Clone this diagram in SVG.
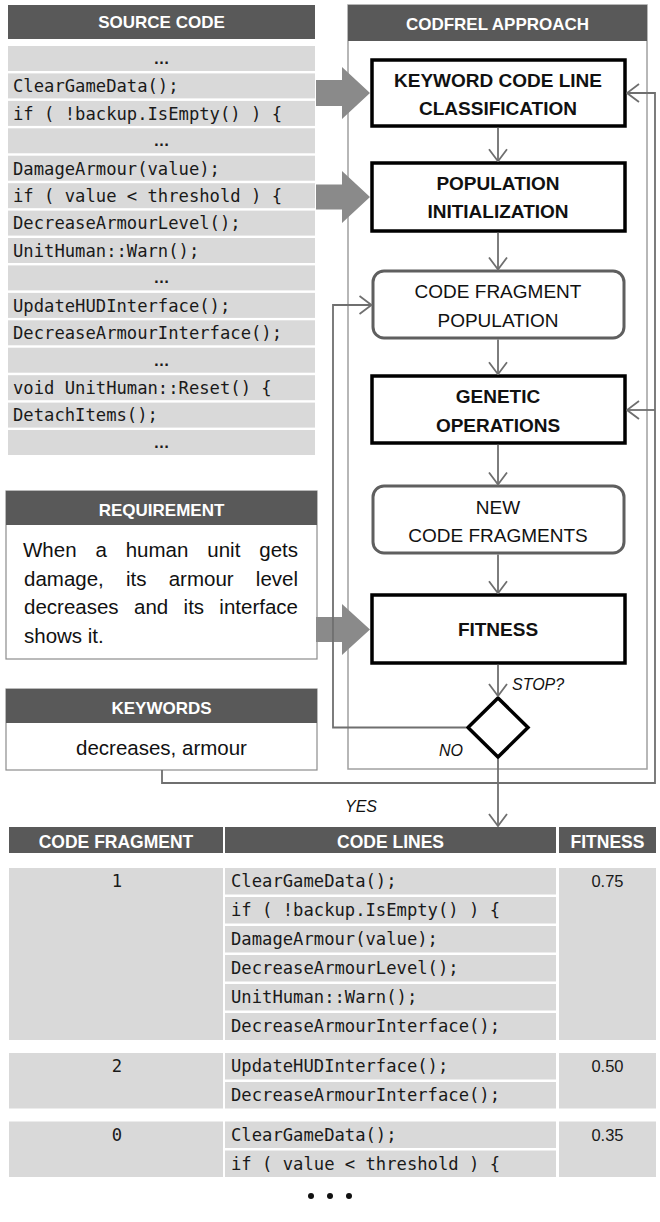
<svg xmlns="http://www.w3.org/2000/svg" width="660" height="1222" viewBox="0 0 660 1222">
  <defs>
    <style>
      .hdr { fill: #595959; }
      .hdrtxt { font-family: "Liberation Sans", Arial, sans-serif; font-weight: bold; font-size: 17px; fill: #ffffff; text-anchor: middle; }
      .row { fill: #d9d9d9; }
      .code { font-family: "DejaVu Sans Mono", "Liberation Mono", monospace; font-size: 17.2px; fill: #1a1a1a; }
      .ell { font-family: "Liberation Sans", Arial, sans-serif; font-weight: bold; font-size: 16px; fill: #1a1a1a; text-anchor: middle; }
      .body { font-family: "Liberation Sans", Arial, sans-serif; font-size: 20.5px; fill: #111111; }
      .frame { fill: #ffffff; stroke: #8c8c8c; stroke-width: 1.2; }
      .panel { fill: none; stroke: #a0a0a0; stroke-width: 1.5; }
      .step { fill: #ffffff; stroke: #000000; stroke-width: 3.5; }
      .data { fill: #ffffff; stroke: #5f5f5f; stroke-width: 3; }
      .steptxt { font-family: "Liberation Sans", Arial, sans-serif; font-weight: bold; font-size: 19px; fill: #111111; text-anchor: middle; }
      .datatxt { font-family: "Liberation Sans", Arial, sans-serif; font-size: 19px; fill: #111111; text-anchor: middle; }
      .block { fill: #8a8a8a; }
      .flow { fill: none; stroke: #6f6f6f; stroke-width: 1.8; }
      .lbl { font-family: "Liberation Sans", Arial, sans-serif; font-style: italic; font-size: 16px; fill: #111111; }
      .num { font-family: "DejaVu Sans Mono", "Liberation Mono", monospace; font-size: 17.2px; fill: #1a1a1a; text-anchor: middle; }
      .fit { font-family: "Liberation Sans", Arial, sans-serif; font-size: 16.5px; fill: #1a1a1a; text-anchor: middle; }
      .thtxt { font-family: "Liberation Sans", Arial, sans-serif; font-weight: bold; font-size: 17.5px; fill: #ffffff; text-anchor: middle; }
    </style>
    <marker id="vhead" viewBox="0 0 14 20" refX="13" refY="10" markerWidth="14" markerHeight="20" markerUnits="userSpaceOnUse" orient="auto">
      <path d="M1,1 L13,10 L1,19" fill="none" stroke="#6f6f6f" stroke-width="1.8"/>
    </marker>
  </defs>

  <rect width="660" height="1222" fill="#ffffff"/>

  <!-- Source code listing -->
  <g id="source-code">
    <rect class="hdr" x="8" y="5" width="307" height="34"/>
    <text class="hdrtxt" x="161.5" y="27.5">SOURCE CODE</text>
    <rect class="row" x="8" y="46" width="307" height="25"/>
    <text class="ell" x="161.5" y="64">…</text>
    <rect class="row" x="8" y="73.4" width="307" height="25"/>
    <text class="code" x="13" y="92.2">ClearGameData();</text>
    <rect class="row" x="8" y="100.9" width="307" height="25"/>
    <text class="code" x="13" y="119.7">if ( !backup.IsEmpty() ) {</text>
    <rect class="row" x="8" y="128.3" width="307" height="25"/>
    <text class="ell" x="161.5" y="146.3">…</text>
    <rect class="row" x="8" y="155.7" width="307" height="25"/>
    <text class="code" x="13" y="174.5">DamageArmour(value);</text>
    <rect class="row" x="8" y="183.2" width="307" height="25"/>
    <text class="code" x="13" y="202">if ( value &lt; threshold ) {</text>
    <rect class="row" x="8" y="210.6" width="307" height="25"/>
    <text class="code" x="13" y="229.4">DecreaseArmourLevel();</text>
    <rect class="row" x="8" y="238" width="307" height="25"/>
    <text class="code" x="13" y="256.8">UnitHuman::Warn();</text>
    <rect class="row" x="8" y="265.4" width="307" height="25"/>
    <text class="ell" x="161.5" y="283.4">…</text>
    <rect class="row" x="8" y="292.9" width="307" height="25"/>
    <text class="code" x="13" y="311.7">UpdateHUDInterface();</text>
    <rect class="row" x="8" y="320.3" width="307" height="25"/>
    <text class="code" x="13" y="339.1">DecreaseArmourInterface();</text>
    <rect class="row" x="8" y="347.7" width="307" height="25"/>
    <text class="ell" x="161.5" y="365.7">…</text>
    <rect class="row" x="8" y="375.2" width="307" height="25"/>
    <text class="code" x="13" y="394">void UnitHuman::Reset() {</text>
    <rect class="row" x="8" y="402.6" width="307" height="25"/>
    <text class="code" x="13" y="421.4">DetachItems();</text>
    <rect class="row" x="8" y="430" width="307" height="25"/>
    <text class="ell" x="161.5" y="448">…</text>
  </g>

  <!-- Requirement (justified paragraph, words placed one by one) -->
  <g id="requirement">
    <rect class="frame" x="6" y="491" width="311" height="168"/>
    <rect class="hdr" x="6" y="491" width="311" height="34"/>
    <text class="hdrtxt" x="161.5" y="515.5">REQUIREMENT</text>
    <text class="body" y="557"><tspan x="23">When</tspan><tspan x="95.4">a</tspan><tspan x="125.7">human</tspan><tspan x="207.3">unit</tspan></text>
    <text class="body" x="298" y="557" text-anchor="end">gets</text>
    <text class="body" y="585.5"><tspan x="24">damage,</tspan><tspan x="126">its</tspan><tspan x="168.7">armour</tspan></text>
    <text class="body" x="298" y="585.5" text-anchor="end">level</text>
    <text class="body" y="614"><tspan x="24">decreases</tspan><tspan x="134">and</tspan><tspan x="183.6">its</tspan></text>
    <text class="body" x="298" y="614" text-anchor="end">interface</text>
    <text class="body" x="24" y="642.5">shows it.</text>
  </g>

  <!-- Keywords -->
  <g id="keywords">
    <rect class="frame" x="6" y="689" width="311" height="81"/>
    <rect class="hdr" x="6" y="689" width="311" height="34"/>
    <text class="hdrtxt" x="161.5" y="713.5">KEYWORDS</text>
    <text class="body" x="161.5" y="755" text-anchor="middle">decreases, armour</text>
  </g>

  <!-- Approach panel -->
  <g id="codfrel-approach">
    <rect class="panel" x="348" y="5" width="299" height="764"/>
    <rect class="hdr" x="348" y="5" width="299" height="36"/>
    <text class="hdrtxt" x="497.5" y="29.5">CODFREL APPROACH</text>
  </g>

  <g id="keyword-classification">
    <rect class="step" x="372" y="60" width="253" height="66"/>
    <text class="steptxt" x="498" y="87">KEYWORD CODE LINE</text>
    <text class="steptxt" x="498" y="115">CLASSIFICATION</text>
  </g>

  <g id="population-initialization">
    <rect class="step" x="372" y="163" width="253" height="68"/>
    <text class="steptxt" x="498" y="190">POPULATION</text>
    <text class="steptxt" x="498" y="218">INITIALIZATION</text>
  </g>

  <g id="code-fragment-population">
    <rect class="data" x="373" y="271" width="251" height="67" rx="11"/>
    <text class="datatxt" x="498" y="298">CODE FRAGMENT</text>
    <text class="datatxt" x="498" y="327">POPULATION</text>
  </g>

  <g id="genetic-operations">
    <rect class="step" x="372" y="376" width="253" height="67"/>
    <text class="steptxt" x="498" y="403">GENETIC</text>
    <text class="steptxt" x="498" y="432">OPERATIONS</text>
  </g>

  <g id="new-code-fragments">
    <rect class="data" x="373" y="486" width="251" height="67" rx="11"/>
    <text class="datatxt" x="498" y="514">NEW</text>
    <text class="datatxt" x="498" y="542">CODE FRAGMENTS</text>
  </g>

  <g id="fitness">
    <rect class="step" x="372" y="595" width="253" height="68"/>
    <text class="steptxt" x="498" y="636">FITNESS</text>
  </g>

  <g id="stop-decision">
    <polygon points="498,698 528,727.5 498,757 468,727.5" fill="#ffffff" stroke="#000000" stroke-width="3.5"/>
  </g>

  <!-- Connectors -->
  <g id="connectors">
    <!-- input block arrows -->
    <polygon class="block" points="316,80 342,80 342,67 370,93 342,119 342,106 316,106"/>
    <polygon class="block" points="316,184.5 342,184.5 342,171 370,197 342,223 342,209.5 316,209.5"/>
    <polygon class="block" points="316,617 342,617 342,604 370,629.5 342,655 342,642 316,642"/>

    <!-- main flow -->
    <path class="flow" d="M498,127.8 V161.2" marker-end="url(#vhead)"/>
    <path class="flow" d="M498,232.8 V269.5" marker-end="url(#vhead)"/>
    <path class="flow" d="M498,339.5 V374.2" marker-end="url(#vhead)"/>
    <path class="flow" d="M498,444.8 V484.5" marker-end="url(#vhead)"/>
    <path class="flow" d="M498,554.5 V593.2" marker-end="url(#vhead)"/>
    <path class="flow" d="M498,664.8 V696" marker-end="url(#vhead)"/>
    <path class="flow" d="M498,759 V826" marker-end="url(#vhead)"/>

    <!-- NO loop back to the population -->
    <path class="flow" d="M466,727.5 H333 V305 H371.5" marker-end="url(#vhead)"/>

    <!-- keywords feed -->
    <path class="flow" d="M162,770 V783 H655 V93 H627" marker-end="url(#vhead)"/>
    <path class="flow" d="M655,410 H627" marker-end="url(#vhead)"/>

    <text class="lbl" x="512" y="690">STOP?</text>
    <text class="lbl" x="439" y="756">NO</text>
    <text class="lbl" x="345" y="812">YES</text>
  </g>

  <!-- Result table -->
  <g id="result-table">
    <rect class="hdr" x="9" y="827" width="214" height="26"/>
    <rect class="hdr" x="225" y="827" width="331" height="26"/>
    <rect class="hdr" x="559" y="827" width="97" height="26"/>
    <text class="thtxt" x="116" y="848">CODE FRAGMENT</text>
    <text class="thtxt" x="390.5" y="848">CODE LINES</text>
    <text class="thtxt" x="607.5" y="848">FITNESS</text>

    <!-- fragment 1 -->
    <rect class="row" x="9" y="868" width="214" height="172"/>
    <rect class="row" x="559" y="868" width="97" height="172"/>
    <text class="num" x="117" y="887">1</text>
    <text class="fit" x="607.5" y="887">0.75</text>
    <rect class="row" x="225" y="868" width="331" height="26.5"/>
    <text class="code" x="231" y="887">ClearGameData();</text>
    <rect class="row" x="225" y="897" width="331" height="26.5"/>
    <text class="code" x="231" y="916">if ( !backup.IsEmpty() ) {</text>
    <rect class="row" x="225" y="926" width="331" height="26.5"/>
    <text class="code" x="231" y="945">DamageArmour(value);</text>
    <rect class="row" x="225" y="955" width="331" height="26.5"/>
    <text class="code" x="231" y="974">DecreaseArmourLevel();</text>
    <rect class="row" x="225" y="984" width="331" height="26.5"/>
    <text class="code" x="231" y="1003">UnitHuman::Warn();</text>
    <rect class="row" x="225" y="1013" width="331" height="27"/>
    <text class="code" x="231" y="1032">DecreaseArmourInterface();</text>

    <!-- fragment 2 -->
    <rect class="row" x="9" y="1053" width="214" height="55.5"/>
    <rect class="row" x="559" y="1053" width="97" height="55.5"/>
    <text class="num" x="117" y="1072">2</text>
    <text class="fit" x="607.5" y="1072">0.50</text>
    <rect class="row" x="225" y="1053" width="331" height="26.5"/>
    <text class="code" x="231" y="1072">UpdateHUDInterface();</text>
    <rect class="row" x="225" y="1082" width="331" height="26.5"/>
    <text class="code" x="231" y="1101">DecreaseArmourInterface();</text>

    <!-- fragment 0 -->
    <rect class="row" x="9" y="1121.5" width="214" height="55.5"/>
    <rect class="row" x="559" y="1121.5" width="97" height="55.5"/>
    <text class="num" x="117" y="1140.5">0</text>
    <text class="fit" x="607.5" y="1140.5">0.35</text>
    <rect class="row" x="225" y="1121.5" width="331" height="26.5"/>
    <text class="code" x="231" y="1140.5">ClearGameData();</text>
    <rect class="row" x="225" y="1150.5" width="331" height="26.5"/>
    <text class="code" x="231" y="1169.5">if ( value &lt; threshold ) {</text>

    <!-- continuation dots -->
    <circle cx="311" cy="1196" r="3" fill="#111111"/>
    <circle cx="330" cy="1196" r="3" fill="#111111"/>
    <circle cx="349" cy="1196" r="3" fill="#111111"/>
  </g>
</svg>
